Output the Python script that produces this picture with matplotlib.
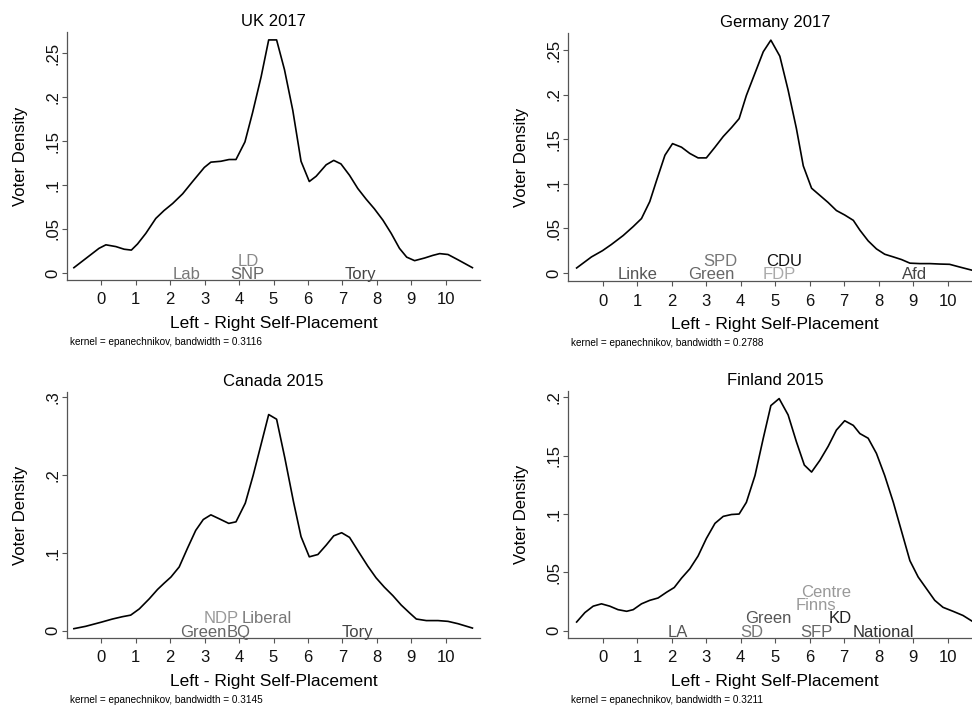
import matplotlib
matplotlib.use('Agg')
import matplotlib.pyplot as plt

plt.rcParams['font.family'] = ['Liberation Sans', 'DejaVu Sans']

# density curves
uk_x = [-0.80, -0.07, 0.13, 0.42, 0.66, 0.87, 1.05, 1.29, 1.58, 1.82, 2.07, 2.36, 2.65, 2.99,
        3.18, 3.47, 3.71, 3.91, 4.17, 4.39, 4.64, 4.86, 5.09, 5.32, 5.56, 5.80, 6.04, 6.24,
        6.53, 6.75, 6.96, 7.21, 7.45, 7.69, 7.93, 8.18, 8.42, 8.66, 8.87, 9.10, 9.39, 9.63,
        9.83, 10.07, 10.36, 10.78]
uk_y = [0.006, 0.028, 0.032, 0.030, 0.027, 0.026, 0.033, 0.045, 0.062, 0.071, 0.079, 0.090,
        0.104, 0.120, 0.126, 0.127, 0.129, 0.129, 0.149, 0.182, 0.223, 0.265, 0.265, 0.231,
        0.185, 0.127, 0.104, 0.110, 0.123, 0.128, 0.124, 0.111, 0.096, 0.084, 0.073, 0.060,
        0.045, 0.028, 0.018, 0.014, 0.017, 0.020, 0.022, 0.021, 0.015, 0.006]

de_x = [-0.75, -0.32, 0.0, 0.26, 0.60, 0.89, 1.13, 1.37, 1.57, 1.81, 2.03, 2.29, 2.53, 2.77,
        3.01, 3.26, 3.50, 3.74, 3.96, 4.17, 4.42, 4.66, 4.88, 5.14, 5.38, 5.62, 5.82, 6.06,
        6.30, 6.54, 6.78, 7.02, 7.27, 7.46, 7.70, 7.94, 8.18, 8.43, 8.67, 8.91, 9.20, 9.49,
        9.78, 10.06, 10.35, 10.72]
de_y = [0.0056, 0.018, 0.025, 0.032, 0.042, 0.052, 0.061, 0.080, 0.104, 0.132, 0.145, 0.141,
        0.134, 0.129, 0.129, 0.141, 0.153, 0.163, 0.173, 0.199, 0.224, 0.248, 0.261, 0.243,
        0.205, 0.162, 0.120, 0.095, 0.087, 0.079, 0.070, 0.065, 0.059, 0.048, 0.036, 0.027,
        0.021, 0.018, 0.015, 0.011, 0.0105, 0.0105, 0.010, 0.0097, 0.0067, 0.003]

ca_x = [-0.80, -0.46, 0.0, 0.32, 0.61, 0.85, 1.10, 1.39, 1.63, 1.82, 2.02, 2.26, 2.50, 2.74,
        2.96, 3.18, 3.42, 3.70, 3.91, 4.18, 4.41, 4.67, 4.86, 5.09, 5.33, 5.58, 5.80, 6.04,
        6.29, 6.53, 6.75, 6.98, 7.21, 7.48, 7.74, 7.98, 8.22, 8.47, 8.71, 8.95, 9.15, 9.44,
        9.78, 10.07, 10.36, 10.78]
ca_y = [0.0026, 0.0056, 0.011, 0.015, 0.018, 0.020, 0.028, 0.041, 0.053, 0.061, 0.069, 0.082,
        0.106, 0.129, 0.143, 0.149, 0.144, 0.138, 0.140, 0.164, 0.200, 0.245, 0.278, 0.272,
        0.222, 0.166, 0.121, 0.095, 0.098, 0.110, 0.122, 0.126, 0.120, 0.101, 0.083, 0.068,
        0.056, 0.045, 0.033, 0.023, 0.015, 0.013, 0.013, 0.012, 0.009, 0.0034]

fi_x = [-0.75, -0.51, -0.27, -0.03, 0.21, 0.45, 0.70, 0.89, 1.13, 1.37, 1.61, 1.86, 2.08, 2.29,
        2.53, 2.77, 3.01, 3.26, 3.50, 3.74, 3.96, 4.17, 4.42, 4.66, 4.88, 5.12, 5.38, 5.62,
        5.85, 6.06, 6.30, 6.54, 6.78, 7.02, 7.27, 7.46, 7.70, 7.94, 8.18, 8.43, 8.67, 8.91,
        9.15, 9.39, 9.63, 9.87, 10.16, 10.45, 10.72]
fi_y = [0.0074, 0.0155, 0.021, 0.023, 0.021, 0.018, 0.0166, 0.018, 0.023, 0.026, 0.028, 0.033,
        0.037, 0.045, 0.053, 0.064, 0.079, 0.092, 0.098, 0.0996, 0.100, 0.110, 0.133, 0.165,
        0.193, 0.199, 0.185, 0.162, 0.142, 0.136, 0.146, 0.158, 0.172, 0.180, 0.176, 0.169,
        0.165, 0.152, 0.133, 0.110, 0.085, 0.060, 0.046, 0.036, 0.026, 0.020, 0.0166, 0.013,
        0.008]

# party mean placements, with the label row they sit on
uk_parties = ['Lab', 'LD', 'SNP', 'Tory']
uk_party_x = [2.47, 4.26, 4.24, 7.53]
uk_party_row = [0, 1, 0, 0]
uk_party_shade = ['#777777', '#8a8a8a', '#666666', '#444444']

de_parties = ['Linke', 'Green', 'SPD', 'CDU', 'FDP', 'Afd']
de_party_x = [1.01, 3.14, 3.41, 5.27, 5.12, 9.03]
de_party_row = [0, 0, 1, 1, 0, 0]
de_party_shade = ['#555555', '#666666', '#777777', '#111111', '#aaaaaa', '#444444']

ca_parties = ['Green', 'BQ', 'NDP', 'Liberal', 'Tory']
ca_party_x = [2.96, 4.00, 3.47, 4.79, 7.43]
ca_party_row = [0, 0, 1, 1, 0]
ca_party_shade = ['#666666', '#666666', '#999999', '#777777', '#444444']

fi_parties = ['LA', 'SD', 'Green', 'SFP', 'Finns', 'Centre', 'KD', 'National']
fi_party_x = [2.19, 4.33, 4.81, 6.19, 6.18, 6.48, 6.88, 8.13]
fi_party_row = [0, 0, 1, 0, 2, 3, 1, 0]
fi_party_shade = ['#555555', '#777777', '#555555', '#666666', '#999999', '#999999', '#222222',
                  '#333333']

titles = ['UK 2017', 'Germany 2017', 'Canada 2015', 'Finland 2015']
bandwidths = ['0.3116', '0.2788', '0.3145', '0.3211']
x_ticks = list(range(0, 11))
y_ticks_a = [0, 0.05, 0.1, 0.15, 0.2, 0.25]
y_labels_a = ['0', '.05', '.1', '.15', '.2', '.25']
y_ticks_ca = [0, 0.1, 0.2, 0.3]
y_labels_ca = ['0', '.1', '.2', '.3']
y_ticks_fi = [0, 0.05, 0.1, 0.15, 0.2]
y_labels_fi = ['0', '.05', '.1', '.15', '.2']

W, H = 972, 705
fig = plt.figure(figsize=(W / 100, H / 100), dpi=100)


def px_axes(l, r, t, b):
    return fig.add_axes([l / W, 1 - b / H, (r - l) / W, (b - t) / H])


panels = [
    (px_axes(67, 480, 32, 280), uk_x, uk_y, (-0.008, 0.274), y_ticks_a, y_labels_a,
     uk_parties, uk_party_x, uk_party_row, uk_party_shade),
    (px_axes(568, 982, 33, 281), de_x, de_y, (-0.009, 0.269), y_ticks_a, y_labels_a,
     de_parties, de_party_x, de_party_row, de_party_shade),
    (px_axes(67, 480, 392, 638), ca_x, ca_y, (-0.0094, 0.307), y_ticks_ca, y_labels_ca,
     ca_parties, ca_party_x, ca_party_row, ca_party_shade),
    (px_axes(568, 982, 391, 638), fi_x, fi_y, (-0.0063, 0.2055), y_ticks_fi, y_labels_fi,
     fi_parties, fi_party_x, fi_party_row, fi_party_shade),
]

for i, (ax, xs, ys, ylim, yt, yl, names, px, rows, shades) in enumerate(panels):
    ax.plot(xs, ys, color='black', lw=1.2)
    ax.set_xlim(-1, 11)
    ax.set_ylim(*ylim)
    ax.set_xticks(x_ticks)
    ax.set_yticks(yt)
    ax.set_yticklabels(yl, rotation=90, va='center')
    ax.tick_params(labelsize=12, length=3.5, width=0.8, color='#555555', labelcolor='#111111')
    ax.tick_params(axis='x', pad=5.5)
    ax.tick_params(axis='y', pad=1.5)
    for s in ['top', 'right']:
        ax.spines[s].set_visible(False)
    for s in ['left', 'bottom']:
        ax.spines[s].set_color('#555555')
        ax.spines[s].set_linewidth(0.9)
    ax.set_title(titles[i], fontsize=12, pad=4)
    ax.set_xlabel('Left - Right Self-Placement', fontsize=12.5, labelpad=6)
    ax.set_ylabel('Voter Density', fontsize=12, labelpad=12)
    for name, x, r, c in zip(names, px, rows, shades):
        ax.annotate(name, xy=(x, 0), xytext=(0, -4.4 + r * 9.6), textcoords='offset points',
                    ha='center', va='baseline', fontsize=12, color=c, annotation_clip=False)
    ax.annotate('kernel = epanechnikov, bandwidth = ' + bandwidths[i], xy=(0, 0),
                xycoords='axes fraction', xytext=(2, -44.5), textcoords='offset points',
                ha='left', va='center', fontsize=7.2)

fig.savefig('out.png', dpi=100)
